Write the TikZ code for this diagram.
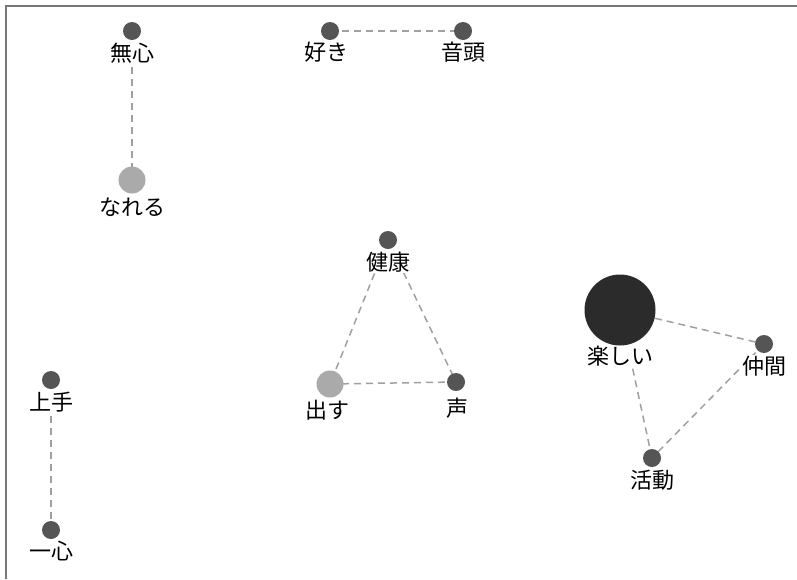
\documentclass[tikz,border=0pt]{standalone}
\usepackage{fontspec}
\setmainfont{Noto Sans CJK JP}
\begin{document}
\begin{tikzpicture}[x=1pt,y=-1pt,
  dot/.style={circle,fill=dotgray,inner sep=0pt,minimum size=18pt},
  lightdot/.style={circle,fill=lightgray2,inner sep=0pt,minimum size=27pt},
  bigdot/.style={circle,fill=darkdot,inner sep=0pt,minimum size=71pt},
  lbl/.style={font=\fontsize{22}{22}\selectfont,inner sep=1pt,fill=white,text=black},
  edge/.style={draw=edgegray,line width=1.5pt,dash pattern=on 7pt off 5pt},
  frame/.style={draw=framegray,line width=2pt}]
\definecolor{dotgray}{HTML}{555555}
\definecolor{lightgray2}{HTML}{AAAAAA}
\definecolor{darkdot}{HTML}{2B2B2B}
\definecolor{edgegray}{HTML}{A0A0A0}
\definecolor{framegray}{HTML}{777777}
\useasboundingbox (0,0) rectangle (797,579);
\fill[white] (0,0) rectangle (797,579);
\coordinate (fa) at (6,579);
\coordinate (fb) at (6,6);
\coordinate (fc) at (797,6);
\draw[frame] (fa) -- (fb) -- (fc);
% dot centres
\coordinate (mushin) at (132,31);
\coordinate (suki) at (330,31);
\coordinate (ondo) at (463,31);
\coordinate (nareru) at (132,180);
\coordinate (kenko) at (388,240);
\coordinate (dasu) at (330,384);
\coordinate (koe) at (456,382);
\coordinate (tanoshii) at (620,310);
\coordinate (nakama) at (764,344);
\coordinate (katsudo) at (652,458);
\coordinate (jozu) at (51,380);
\coordinate (isshin) at (51,530);
% edges
\draw[edge] (mushin) -- (nareru);
\draw[edge] (suki) -- (ondo);
\draw[edge] (kenko) -- (dasu);
\draw[edge] (kenko) -- (koe);
\draw[edge] (dasu) -- (koe);
\draw[edge] (tanoshii) -- (nakama);
\draw[edge] (tanoshii) -- (katsudo);
\draw[edge] (nakama) -- (katsudo);
\draw[edge] (jozu) -- (isshin);
% labels
\node[lbl] (lmushin) at (132,53) {無心};
\node[lbl] (lsuki) at (326,52) {好き};
\node[lbl] (londo) at (463,52) {音頭};
\node[lbl] (lnareru) at (132,207) {なれる};
\node[lbl] (lkenko) at (388,262) {健康};
\node[lbl] (ldasu) at (327,410) {出す};
\node[lbl] (lkoe) at (457,408) {声};
\node[lbl] (ltanoshii) at (620,356) {楽しい};
\node[lbl] (lnakama) at (764,366) {仲間};
\node[lbl] (lkatsudo) at (652,480) {活動};
\node[lbl] (ljozu) at (51,402) {上手};
\node[lbl] (lisshin) at (51,551) {一心};
% dots
\node[dot] (dmushin) at (mushin) {};
\node[dot] (dsuki) at (suki) {};
\node[dot] (dondo) at (ondo) {};
\node[lightdot] (dnareru) at (nareru) {};
\node[dot] (dkenko) at (kenko) {};
\node[lightdot] (ddasu) at (dasu) {};
\node[dot] (dkoe) at (koe) {};
\node[bigdot] (dtanoshii) at (tanoshii) {};
\node[dot] (dnakama) at (nakama) {};
\node[dot] (dkatsudo) at (katsudo) {};
\node[dot] (djozu) at (jozu) {};
\node[dot] (disshin) at (isshin) {};
\end{tikzpicture}
\end{document}
